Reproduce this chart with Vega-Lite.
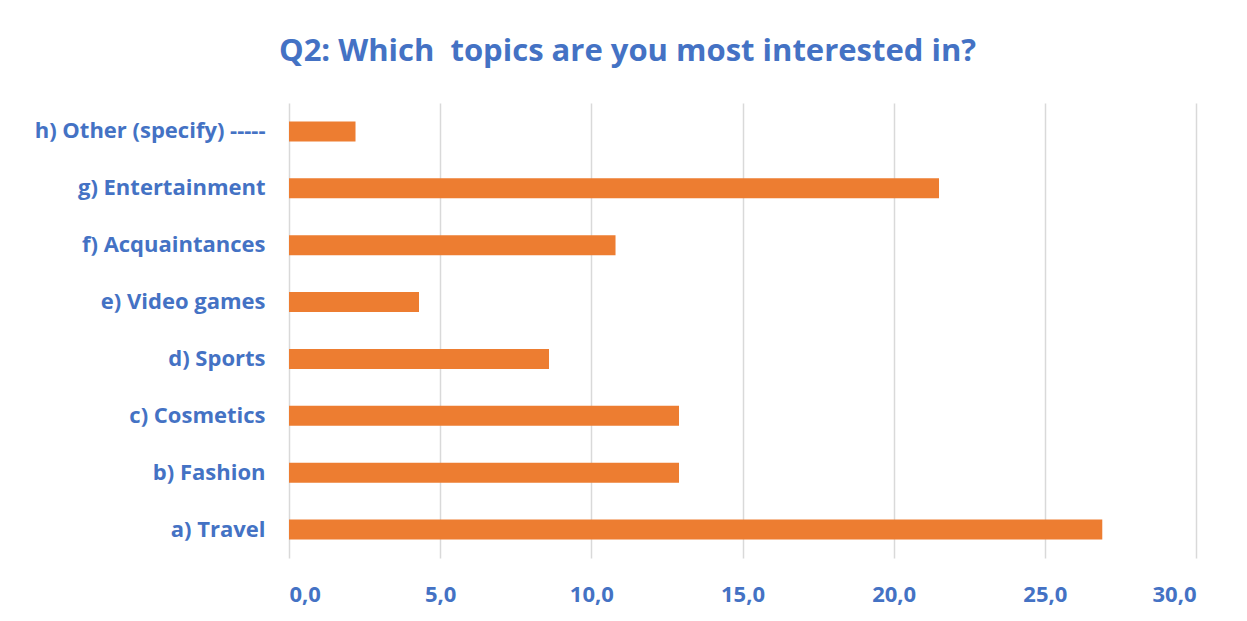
{
  "$schema": "https://vega.github.io/schema/vega-lite/v6.json",
  "autosize": "none",
  "width": 907,
  "height": 455,
  "padding": {"left": 289, "top": 103, "right": 51, "bottom": 63},
  "background": "white",
  "config": {
    "locale": {"number": {"decimal": ",", "thousands": ".", "grouping": [3], "currency": ["", " €"]}},
    "view": {"stroke": null},
    "font": "Open Sans"
  },
  "title": {
    "text": "Q2: Which\u00a0 topics are you most interested in?",
    "font": "Open Sans",
    "fontSize": 31,
    "fontWeight": "bold",
    "color": "#4472C4",
    "anchor": "middle",
    "frame": "group",
    "dx": -115,
    "offset": 35
  },
  "data": {
    "values": [
      {"topic": "a) Travel", "value": 26.9},
      {"topic": "b) Fashion", "value": 12.9},
      {"topic": "c) Cosmetics", "value": 12.9},
      {"topic": "d) Sports", "value": 8.6},
      {"topic": "e) Video games", "value": 4.3},
      {"topic": "f) Acquaintances", "value": 10.8},
      {"topic": "g) Entertainment", "value": 21.5},
      {"topic": "h) Other (specify) -----", "value": 2.2}
    ]
  },
  "mark": {"type": "bar", "color": "#ED7D31"},
  "encoding": {
    "y": {
      "field": "topic",
      "type": "nominal",
      "sort": "descending",
      "scale": {"paddingInner": 0.65, "paddingOuter": 0.325},
      "axis": {
        "title": null,
        "domain": false,
        "ticks": false,
        "grid": false,
        "labelPadding": 24,
        "labelFont": "Open Sans",
        "labelFontSize": 22,
        "labelFontWeight": "bold",
        "labelColor": "#4472C4",
        "labelLimit": 400
      }
    },
    "x": {
      "field": "value",
      "type": "quantitative",
      "scale": {"domain": [0, 30], "nice": false},
      "axis": {
        "title": null,
        "values": [0, 5, 10, 15, 20, 25, 30],
        "format": ".1f",
        "domain": false,
        "ticks": false,
        "grid": true,
        "gridColor": "#D9D9D9",
        "gridWidth": 1.5,
        "labelPadding": 26,
        "labelFont": "Open Sans",
        "labelFontSize": 22,
        "labelFontWeight": "bold",
        "labelColor": "#4472C4"
      }
    }
  }
}
